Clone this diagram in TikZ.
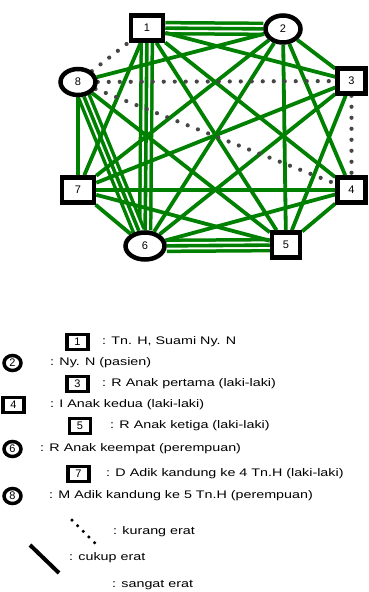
\documentclass[tikz,border=0pt]{standalone}
\usepackage{fontspec}
\usepackage{graphicx}
\setmainfont{Liberation Sans}
\usetikzlibrary{shapes.geometric,backgrounds}
\definecolor{tiegreen}{RGB}{0,128,0}
\definecolor{dotgray}{RGB}{70,70,70}
\newcommand{\widetext}[1]{\scalebox{1.3}[1]{#1}}

\begin{document}
\begin{tikzpicture}[x=1pt,y=-1pt,
  male/.style={draw, line width=4.5pt, fill=white, rectangle, inner sep=0pt,
    minimum width=32pt, minimum height=25pt, font=\fontsize{11}{12}\selectfont},
  female/.style={draw, line width=4.5pt, fill=white, ellipse, inner sep=0pt,
    minimum width=35pt, minimum height=27pt, font=\fontsize{11}{12}\selectfont},
  keymale/.style={male, line width=3.5pt, minimum width=21pt, minimum height=15pt},
  keyfemale/.style={female, line width=3.5pt, minimum width=17pt, minimum height=15pt},
  keytext/.style={anchor=west, inner sep=0pt, font=\fontsize{11}{12}\selectfont},
  tie/.style={draw=tiegreen, line width=3.8pt},
  tietriple/.style={draw=tiegreen, line width=14.5pt,
    postaction={draw=white, line width=7.5pt},
    postaction={draw=tiegreen, line width=3.6pt}},
  weak/.style={draw=dotgray, line width=4.2pt, line cap=round, dash pattern=on 0pt off 11pt},
]
\useasboundingbox (0,0) rectangle (368,592);

% family members
\node[male]   (n1) at (147,28) {1};
\node[female] (n2) at (283,29) {2};
\node[male, minimum width=28pt] (n3) at (351.5,81) {3};
\node[male, minimum width=28pt] (n4) at (351.5,190) {4};
\node[male, minimum width=28pt] (n5) at (286,245) {5};
\node[female, minimum width=39pt] (n6) at (145,246) {6};
\node[male]   (n7) at (78,190) {7};
\node[female, minimum width=35pt, minimum height=26pt] (n8) at (78,82) {8};

% relationships
\begin{scope}[on background layer]
  \draw[tietriple] (n1) -- (n2);
  \draw[tietriple] (n1) -- (n6);
  \draw[tietriple] (n6) -- (n5);
  \draw[tietriple] (n8) -- (n6);
  \foreach \a/\b in {1/3,1/4,1/5,1/7,
                     2/3,2/4,2/5,2/6,2/7,2/8,
                     3/5,3/6,3/7,
                     4/5,4/6,4/7,
                     5/7,5/8,
                     6/7,
                     7/8}
    \draw[tie] (n\a) -- (n\b);
  \draw[weak] (n8) -- (n1);
  \draw[weak] (n8) -- (n3);
  \draw[weak] (n8) -- (n4);
  \draw[weak] (n3) -- (n4);
\end{scope}

% key
\node[keymale]   (k1) at (77.5,342) {1};
\node[keytext]   (t1) at (102,342) {\widetext{: Tn. H, Suami Ny. N}};
\node[keyfemale] (k2) at (12.5,363) {2};
\node[keytext]   (t2) at (50,363) {\widetext{: Ny. N (pasien)}};
\node[keymale]   (k3) at (77.5,384) {3};
\node[keytext]   (t3) at (102,384) {\widetext{: R Anak pertama (laki-laki)}};
\node[keymale]   (k4) at (13.5,405) {4};
\node[keytext]   (t4) at (50,405) {\widetext{: I Anak kedua (laki-laki)}};
\node[keymale]   (k5) at (80,426) {5};
\node[keytext]   (t5) at (110,426) {\widetext{: R Anak ketiga (laki-laki)}};
\node[keyfemale] (k6) at (12.5,449) {6};
\node[keytext]   (t6) at (40,449) {\widetext{: R Anak keempat (perempuan)}};
\node[keymale]   (k7) at (78.5,474) {7};
\node[keytext]   (t7) at (106,474) {\widetext{: D Adik kandung ke 4 Tn.H (laki-laki)}};
\node[keyfemale] (k8) at (12.5,496) {8};
\node[keytext]   (t8) at (49,496) {\widetext{: M Adik kandung ke 5 Tn.H (perempuan)}};

\coordinate (w1) at (72,520);
\coordinate (w2) at (96,544);
\draw[weak, draw=black, line width=3.5pt, dash pattern=on 0pt off 8pt] (w1) -- (w2);
\node[keytext] (tw) at (113,532) {\widetext{: kurang erat}};

\coordinate (c1) at (30,545);
\coordinate (c2) at (59,573);
\draw[line width=4pt] (c1) -- (c2);
\node[keytext] (tc) at (69,558) {\widetext{: cukup erat}};

\node[keytext] (ts) at (112,585) {\widetext{: sangat erat}};
\end{tikzpicture}
\end{document}
